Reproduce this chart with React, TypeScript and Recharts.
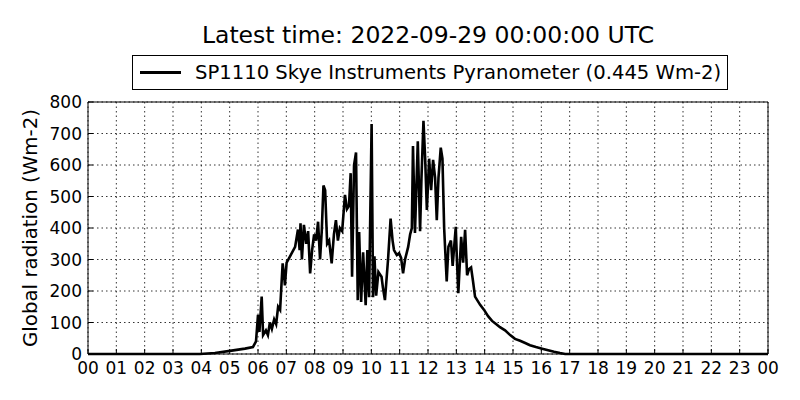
import React from 'react'
import { LineChart, Line, XAxis, YAxis, CartesianGrid } from 'recharts'

// time of day in decimal hours (UTC)
const HOURS = [
  0, 3.95, 4.48, 5.01, 5.54, 5.82, 5.93, 6.0, 6.05, 6.13, 6.18, 6.28, 6.35, 6.42, 6.49, 6.57, 6.64, 6.71, 6.78,
  6.87, 6.92, 6.95, 7.01, 7.13, 7.31, 7.41, 7.47, 7.5, 7.55, 7.62, 7.7, 7.77, 7.84, 7.91, 7.98, 8.05, 8.12,
  8.19, 8.25, 8.31, 8.37, 8.44, 8.51, 8.6, 8.68, 8.75, 8.82, 8.89, 8.97, 9.07, 9.14, 9.21, 9.27, 9.32, 9.39,
  9.46, 9.52, 9.57, 9.64, 9.71, 9.8, 9.86, 9.92, 10.01, 10.06, 10.11, 10.17, 10.25, 10.36, 10.41, 10.48,
  10.59, 10.68, 10.75, 10.8, 10.9, 10.98, 11.05, 11.12, 11.19, 11.3, 11.37, 11.43, 11.47, 11.54, 11.64,
  11.72, 11.77, 11.84, 11.9, 11.96, 12.04, 12.11, 12.18, 12.25, 12.31, 12.37, 12.45, 12.51, 12.57, 12.66,
  12.72, 12.81, 12.87, 12.98, 13.02, 13.07, 13.17, 13.24, 13.31, 13.38, 13.45, 13.52, 13.59, 13.66, 13.84,
  13.98, 14.12, 14.26, 14.4, 14.54, 14.72, 14.9, 15.07, 15.25, 15.43, 15.6, 15.81, 16.03, 16.24, 16.45,
  16.66, 16.84, 24,
]

// global radiation, Wm-2
const RADIATION = [
  0, 0, 3, 10, 17, 22, 40, 124, 70, 182, 60, 75, 60, 100, 80, 110, 95, 150, 140,
  288, 250, 218, 290, 310, 340, 395, 330, 415, 300, 410, 350, 390, 256, 330, 380, 360, 420,
  300, 390, 535, 520, 350, 360, 288, 380, 425, 360, 400, 390, 505, 460, 470, 574, 245, 600,
  640, 171, 387, 165, 323, 155, 330, 180, 730, 180, 310, 185, 260, 245, 210, 171,
  300, 430, 360, 330, 314, 320, 305, 256, 300, 340, 380, 400, 660, 384, 675,
  390, 560, 740, 620, 457, 620, 520, 616, 560, 425, 560, 655, 620, 400, 230,
  340, 360, 280, 404, 300, 193, 372, 290, 394, 250, 270, 275, 230, 182, 156,
  140, 120, 105, 95, 85, 75, 60, 48, 42, 35, 28, 22, 17, 12, 7,
  3, 0, 0,
]

const HOUR_TICKS = Array.from({ length: 25 }, (_, i) => i)
const VALUE_TICKS = [0, 100, 200, 300, 400, 500, 600, 700, 800]

const SERIES_NAME = 'SP1110 Skye Instruments Pyranometer (0.445 Wm-2)'
const TITLE = 'Latest time: 2022-09-29 00:00:00 UTC'

const data = HOURS.map((h, i) => ({ hour: h, value: RADIATION[i] }))

const FONT = '"DejaVu Sans", sans-serif'
const tickStyle = { fill: '#000', fontSize: 17, fontFamily: FONT }

const fmtHour = (h: number) => String(h % 24).padStart(2, '0')

function LegendBox() {
  return (
    <div
      style={{
        position: 'absolute',
        left: 132,
        top: 55,
        display: 'flex',
        alignItems: 'center',
        border: '1px solid #000',
        background: '#fff',
        height: 35,
        padding: '0 6px 0 7px',
        boxSizing: 'border-box',
        fontFamily: FONT,
        fontSize: 19.6,
        color: '#000',
        whiteSpace: 'nowrap',
      }}
    >
      <span style={{ display: 'inline-block', width: 41, height: 3, background: '#000', marginRight: 14 }} />
      {SERIES_NAME}
    </div>
  )
}

export default function App() {
  return (
    <div style={{ position: 'absolute', left: 0, top: 0, width: 800, height: 400, background: '#fff' }}>
      <div
        style={{
          position: 'absolute',
          left: 88,
          width: 680,
          top: 20,
          textAlign: 'center',
          fontFamily: FONT,
          fontSize: 23.5,
          color: '#000',
          lineHeight: '30px',
        }}
      >
        {TITLE}
      </div>
      <LegendBox />
      <LineChart width={800} height={400} data={data} margin={{ top: 101, right: 31, bottom: 16, left: 28 }}>
        <CartesianGrid
          xAxisId="main"
          yAxisId="main"
          stroke="#000"
          strokeWidth={0.8}
          strokeDasharray="1.5 3"
          vertical
          horizontal
        />
        <XAxis
          xAxisId="main"
          dataKey="hour"
          type="number"
          domain={[0, 24]}
          ticks={HOUR_TICKS}
          tickFormatter={fmtHour}
          interval={0}
          height={30}
          tick={tickStyle}
          tickSize={-5}
          tickMargin={13}
          axisLine={{ stroke: '#000' }}
          tickLine={{ stroke: '#000' }}
        />
        <XAxis
          xAxisId="top"
          orientation="top"
          dataKey="hour"
          type="number"
          domain={[0, 24]}
          ticks={HOUR_TICKS}
          height={1}
          tick={false}
          tickSize={-5}
          axisLine={{ stroke: '#000' }}
          tickLine={{ stroke: '#000' }}
        />
        <YAxis
          yAxisId="main"
          type="number"
          domain={[0, 800]}
          ticks={VALUE_TICKS}
          interval={0}
          width={60}
          tick={tickStyle}
          tickSize={-5}
          tickMargin={11}
          axisLine={{ stroke: '#000' }}
          tickLine={{ stroke: '#000' }}
          label={{
            value: 'Global radiation (Wm-2)',
            angle: -90,
            position: 'center',
            dx: -28,
            style: { fill: '#000', fontSize: 19.8, fontFamily: FONT },
          }}
        />
        <YAxis
          yAxisId="right"
          orientation="right"
          type="number"
          domain={[0, 800]}
          ticks={VALUE_TICKS}
          width={1}
          tick={false}
          tickSize={-5}
          axisLine={{ stroke: '#000' }}
          tickLine={{ stroke: '#000' }}
        />
        <Line
          xAxisId="main"
          yAxisId="main"
          dataKey="value"
          type="linear"
          stroke="#000"
          strokeWidth={2.6}
          dot={false}
          isAnimationActive={false}
          name={SERIES_NAME}
        />
      </LineChart>
    </div>
  )
}
